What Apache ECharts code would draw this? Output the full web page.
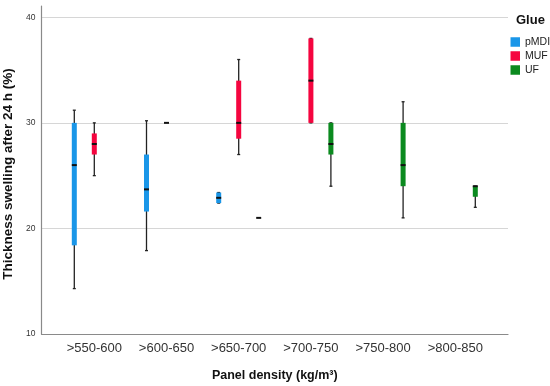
<!DOCTYPE html>
<html>
<head>
<meta charset="utf-8">
<script src="https://cdn.jsdelivr.net/npm/echarts@6/dist/echarts.min.js"></script>
<style>html,body{margin:0;padding:0;background:#fff}#c{width:550px;height:386px}</style>
</head>
<body>
<div id="c"></div>
<script>
// categories on x axis
const categories = ['>550-600', '>600-650', '>650-700', '>700-750', '>750-800', '>800-850'];
const glueNames = ['pMDI', 'MUF', 'UF'];
// [min, Q1, median, Q3, max] per category (null = no data)
const pMDI = [[14.3, 18.4, 26.0, 30.0, 31.2], [17.9, 21.6, 23.7, 27.0, 30.2], [22.4, 22.4, 22.9, 23.4, 23.4], null, null, null];
const MUF  = [[25.0, 27.0, 28.0, 29.0, 30.0], [30.0, 30.0, 30.0, 30.0, 30.0], [27.0, 28.5, 30.0, 34.0, 36.0], [30.0, 30.0, 34.0, 38.0, 38.0], null, null];
const UF   = [null, null, [21.0, 21.0, 21.0, 21.0, 21.0], [24.0, 27.0, 28.0, 30.0, 30.0], [21.0, 24.0, 26.0, 30.0, 32.0], [22.0, 23.0, 24.0, 24.0, 24.0]];
const yTicks = [10, 20, 30, 40];

const colors = ['#1a96e8', '#f5053f', '#0b8a1f'];
const allSeries = [pMDI, MUF, UF];

function toData(arr) {
  const out = [];
  arr.forEach((v, i) => { if (v) out.push([i].concat(v)); });
  return out;
}

function makeRender(idx, color) {
  return function (params, api) {
    const cat = api.value(0);
    const band = api.size([1, 0])[0];
    const off = (idx - 1) * band * 0.277;
    const x = api.coord([cat, 0])[0] + off;
    const yMin = api.coord([cat, api.value(1)])[1];
    const yQ1 = api.coord([cat, api.value(2)])[1];
    const yMed = api.coord([cat, api.value(3)])[1];
    const yQ3 = api.coord([cat, api.value(4)])[1];
    const yMax = api.coord([cat, api.value(5)])[1];
    const bw = 5;
    const children = [];
    if (yMin - yMax > 0.5) {
      children.push({ type: 'line', shape: { x1: x, y1: yMax, x2: x, y2: yMin }, style: { stroke: '#222', lineWidth: 1.3 } });
      children.push({ type: 'line', shape: { x1: x - 1.5, y1: yMax, x2: x + 1.5, y2: yMax }, style: { stroke: '#222', lineWidth: 1.3 } });
      children.push({ type: 'line', shape: { x1: x - 1.5, y1: yMin, x2: x + 1.5, y2: yMin }, style: { stroke: '#222', lineWidth: 1.3 } });
    }
    if (yQ1 - yQ3 > 0.5) {
      children.push({ type: 'rect', shape: { x: x - bw / 2, y: yQ3, width: bw, height: yQ1 - yQ3 }, style: { fill: color } });
    }
    children.push({ type: 'line', shape: { x1: x - bw / 2, y1: yMed, x2: x + bw / 2, y2: yMed }, style: { stroke: '#111', lineWidth: 2 } });
    return { type: 'group', children: children };
  };
}

const chart = echarts.init(document.getElementById('c'), null, { renderer: 'canvas' });
const yMaxAxis = 41.07;
const option = {
  animation: false,
  backgroundColor: '#fff',
  title: {
    text: 'Glue', left: 511, top: 9,
    textStyle: { fontFamily: 'Liberation Sans, Arial', fontSize: 13, fontWeight: 'bold', color: '#111' }
  },
  legend: {
    orient: 'vertical', left: 505.5, top: 30, icon: 'rect', itemWidth: 9.5, itemHeight: 9.5, itemGap: 0,
    data: glueNames,
    textStyle: { fontFamily: 'Liberation Sans, Arial', fontSize: 10.5, color: '#222', lineHeight: 14 }
  },
  grid: [
    { left: 41.5, right: 42, top: 6, bottom: 52, containLabel: false, outerBoundsMode: 'none' },
    { left: 58.2, right: 58.6, top: 6, bottom: 52, containLabel: false, outerBoundsMode: 'none' }
  ],
  xAxis: [
    { gridIndex: 0, type: 'value', min: 0, max: 1, show: true,
      axisLine: { show: true, lineStyle: { color: '#8a8a8a', width: 1.2 } },
      axisTick: { show: false }, axisLabel: { show: false }, splitLine: { show: false } },
    { gridIndex: 1, type: 'category', data: categories,
      axisLine: { show: false }, axisTick: { show: false },
      axisLabel: { margin: 8, fontFamily: 'Liberation Sans, Arial', fontSize: 13, color: '#333' },
      name: 'Panel density (kg/m³)', nameLocation: 'middle', nameGap: 35,
      nameTextStyle: { fontFamily: 'Liberation Sans, Arial', fontSize: 12.5, fontWeight: 'bold', color: '#111' } }
  ],
  yAxis: [
    { gridIndex: 0, type: 'value', min: yTicks[0], max: yMaxAxis, interval: 10,
      axisLine: { show: true, lineStyle: { color: '#8a8a8a', width: 1.2 } },
      axisTick: { show: false },
      axisLabel: { margin: 6, fontFamily: 'Liberation Sans, Arial', fontSize: 8.5, color: '#333', showMaxLabel: false },
      splitLine: { show: true, showMaxLine: false, showMinLine: false, lineStyle: { color: '#d6d6d6', width: 1.2 } },
      name: 'Thickness swelling after 24 h (%)', nameLocation: 'middle', nameGap: 23, nameRotate: 90,
      nameTextStyle: { fontFamily: 'Liberation Sans, Arial', fontSize: 13.5, fontWeight: 'bold', color: '#111', padding: [0, 8, 0, 0] } },
    { gridIndex: 1, type: 'value', min: yTicks[0], max: yMaxAxis, show: false, splitLine: { show: false } }
  ],
  series: glueNames.map((name, i) => ({
    name: name,
    type: 'custom',
    xAxisIndex: 1, yAxisIndex: 1,
    itemStyle: { color: colors[i] },
    encode: { x: 0, y: [1, 2, 3, 4, 5] },
    renderItem: makeRender(i, colors[i]),
    data: toData(allSeries[i])
  }))
};
chart.setOption(option);
</script>
</body>
</html>
